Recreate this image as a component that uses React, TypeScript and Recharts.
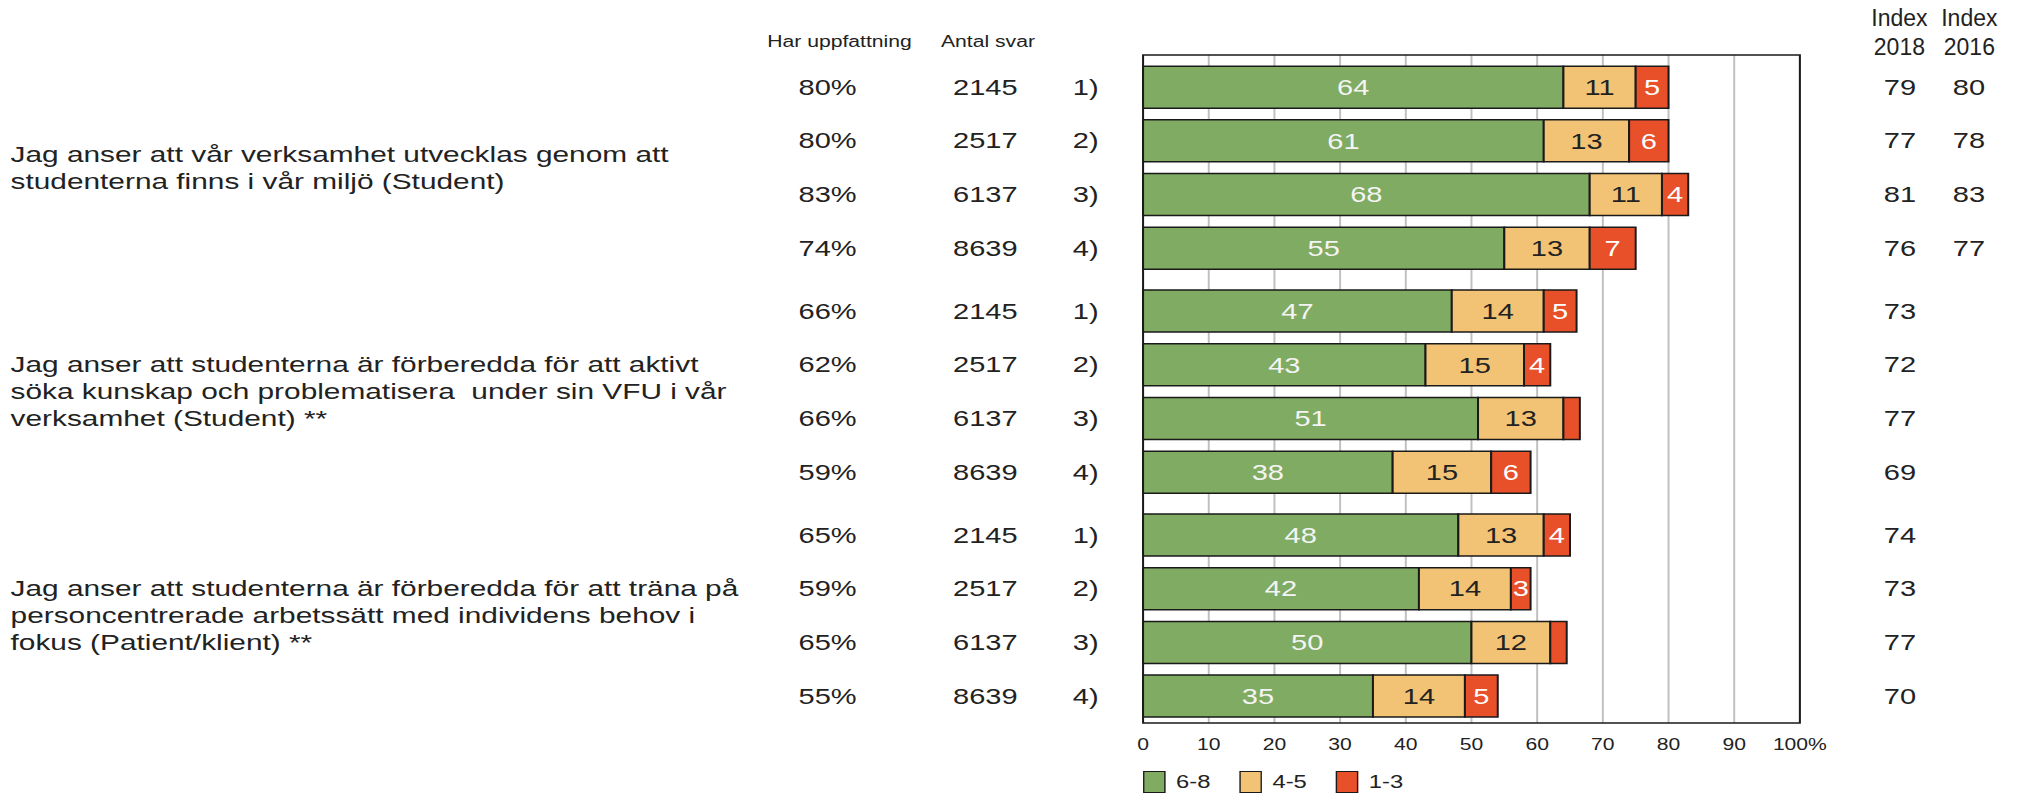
import React from "react";
import {
  BarChart,
  Bar,
  XAxis,
  YAxis,
  CartesianGrid,
  LabelList,
  ReferenceLine,
  ReferenceArea,
  Legend,
} from "recharts";

// Values
const questions = [
  ["Jag anser att vår verksamhet utvecklas genom att", "studenterna finns i vår miljö (Student)"],
  [
    "Jag anser att studenterna är förberedda för att aktivt",
    "söka kunskap och problematisera  under sin VFU i vår",
    "verksamhet (Student) **",
  ],
  [
    "Jag anser att studenterna är förberedda för att träna på",
    "personcentrerade arbetssätt med individens behov i",
    "fokus (Patient/klient) **",
  ],
];
const groupOfRow = [0, 0, 0, 0, 1, 1, 1, 1, 2, 2, 2, 2];
const rowLabels = ["1)", "2)", "3)", "4)", "1)", "2)", "3)", "4)", "1)", "2)", "3)", "4)"];
const harUppfattning = ["80%", "80%", "83%", "74%", "66%", "62%", "66%", "59%", "65%", "59%", "65%", "55%"];
const antalSvar = [2145, 2517, 6137, 8639, 2145, 2517, 6137, 8639, 2145, 2517, 6137, 8639];
const high = [64, 61, 68, 55, 47, 43, 51, 38, 48, 42, 50, 35];
const mid = [11, 13, 11, 13, 14, 15, 13, 15, 13, 14, 12, 14];
const low = [5, 6, 4, 7, 5, 4, 2.5, 6, 4, 3, 2.5, 5];
const index2018 = [79, 77, 81, 76, 73, 72, 77, 69, 74, 73, 77, 70];
const index2016 = [80, 78, 83, 77, null, null, null, null, null, null, null, null];
const seriesNames = ["6-8", "4-5", "1-3"];
const seriesColors = ["#80ab63", "#f2c374", "#e8502a"];
const xTicks = [0, 10, 20, 30, 40, 50, 60, 70, 80, 90, 100];

// the picture is a chart stretched sideways, so draw narrow and stretch
const W = 1544;
const H = 800;
const S = 2038 / W;
const GROUP_GAP = 0.17;
const Y_DOMAIN: [number, number] = [-0.596, 11.844];
const TXT = "#222";

const rows = high.map((h, i) => ({
  pos: i + groupOfRow[i] * GROUP_GAP,
  row: rowLabels[i],
  pct: harUppfattning[i],
  n: antalSvar[i],
  high: h,
  mid: mid[i],
  low: low[i],
  idx18: index2018[i],
  idx16: index2016[i],
}));

const groupCenters = questions.map((_, g) => {
  const ps = rows.filter((_, i) => groupOfRow[i] === g).map((r) => r.pos);
  return ps.reduce((a, b) => a + b, 0) / ps.length;
});

function RowTick(props: any) {
  const { y, payload } = props;
  const r = rows[payload.index];
  if (!r) return null;
  const t = (x: number, v: any) => (
    <text x={x} y={y} textAnchor="middle" dominantBaseline="central" fontSize={22} fill={TXT}>
      {v}
    </text>
  );
  return (
    <g>
      {t(627, r.pct)}
      {t(746.5, r.n)}
      {t(822.6, r.row)}
      {t(1439.4, r.idx18)}
      {r.idx16 != null && t(1491.7, r.idx16)}
    </g>
  );
}

const questionLabel = (lines: string[]) => (p: any) => {
  const cy = p.viewBox.y;
  return (
    <text x={8} y={cy} fontSize={22.6} fill={TXT} style={{ whiteSpace: "pre" }}>
      {lines.map((l, j) => (
        <tspan key={j} x={8} y={cy + (j - (lines.length - 1) / 2) * 27} dominantBaseline="central">
          {l}
        </tspan>
      ))}
    </text>
  );
};

const renderLegend = (props: any) => {
  const items = [...(props.payload || [])].sort(
    (a: any, b: any) => seriesNames.indexOf(a.value) - seriesNames.indexOf(b.value)
  );
  return (
    <div style={{ display: "flex", alignItems: "center" }}>
      {items.map((p: any) => (
        <div key={p.value} style={{ display: "flex", alignItems: "center", marginRight: 22 }}>
          <span
            style={{
              display: "inline-block",
              boxSizing: "border-box",
              width: 17,
              height: 22,
              background: p.color || seriesColors[seriesNames.indexOf(p.value)],
              border: "1.5px solid #1a1a1a",
              marginRight: 8,
            }}
          />
          <span style={{ fontSize: 18, color: TXT }}>{p.value}</span>
        </div>
      ))}
    </div>
  );
};

const head = (x: number, y: number, text: string, size: number, narrow = false) => (
  <div
    style={{
      position: "absolute",
      left: x,
      top: y,
      transform: narrow ? `translate(-50%, -50%) scaleX(${1 / S})` : "translate(-50%, -50%)",
      fontSize: size,
      color: TXT,
      whiteSpace: "nowrap",
    }}
  >
    {text}
  </div>
);

export default function App() {
  return (
    <div
      style={{
        position: "absolute",
        left: 0,
        top: 0,
        width: W,
        height: H,
        background: "#fff",
        transform: `scaleX(${S})`,
        transformOrigin: "0 0",
        fontFamily: "'Liberation Sans', Arial, sans-serif",
      }}
    >
      {head(636, 42, "Har uppfattning", 16)}
      {head(748.5, 42, "Antal svar", 16)}
      {head(1439.4, 18, "Index", 23, true)}
      {head(1439.4, 47, "2018", 23, true)}
      {head(1491.7, 18, "Index", 23, true)}
      {head(1491.7, 47, "2016", 23, true)}
      <BarChart
        width={W}
        height={H}
        data={rows}
        layout="vertical"
        margin={{ top: 55, right: 180.4, bottom: 47, left: 865 }}
      >
        <CartesianGrid horizontal={false} stroke="#c0c0c0" strokeWidth={1.5} />
        <XAxis
          type="number"
          domain={[0, 100]}
          ticks={xTicks}
          interval={0}
          height={30}
          tickLine={false}
          axisLine={false}
          tickSize={0}
          tickMargin={16}
          tick={{ fill: TXT, fontSize: 16 }}
          tickFormatter={(v: number) => (v === 100 ? "100%" : String(v))}
        />
        <YAxis
          type="number"
          dataKey="pos"
          domain={Y_DOMAIN}
          ticks={rows.map((r) => r.pos)}
          interval={0}
          width={1}
          tickLine={false}
          axisLine={false}
          tick={<RowTick />}
        />
        <ReferenceArea
          x1={0}
          x2={100}
          y1={Y_DOMAIN[0]}
          y2={Y_DOMAIN[1]}
          fill="none"
          fillOpacity={0}
          stroke="#1a1a1a"
          strokeWidth={1.5}
          ifOverflow="visible"
        />
        {questions.map((q, g) => (
          <ReferenceLine
            key={g}
            y={groupCenters[g]}
            stroke="none"
            ifOverflow="visible"
            label={questionLabel(q)}
          />
        ))}
        <Bar dataKey="high" name={seriesNames[0]} stackId="s" fill={seriesColors[0]} stroke="#1a1a1a" strokeWidth={1.5} barSize={42} isAnimationActive={false}>
          <LabelList dataKey="high" position="center" fill="#f4f4f4" fontSize={22} formatter={(v: any) => (v >= 3 ? v : "")} />
        </Bar>
        <Bar dataKey="mid" name={seriesNames[1]} stackId="s" fill={seriesColors[1]} stroke="#1a1a1a" strokeWidth={1.5} barSize={42} isAnimationActive={false}>
          <LabelList dataKey="mid" position="center" fill={TXT} fontSize={22} formatter={(v: any) => (v >= 3 ? v : "")} />
        </Bar>
        <Bar dataKey="low" name={seriesNames[2]} stackId="s" fill={seriesColors[2]} stroke="#1a1a1a" strokeWidth={1.5} barSize={42} isAnimationActive={false}>
          <LabelList dataKey="low" position="center" fill="#fff" fontSize={22} formatter={(v: any) => (v >= 3 ? v : "")} />
        </Bar>
        <Legend
          layout="horizontal"
          verticalAlign="middle"
          align="center"
          content={renderLegend}
          wrapperStyle={{ left: 866, top: 771, width: "auto", height: 22 }}
        />
      </BarChart>
    </div>
  );
}
